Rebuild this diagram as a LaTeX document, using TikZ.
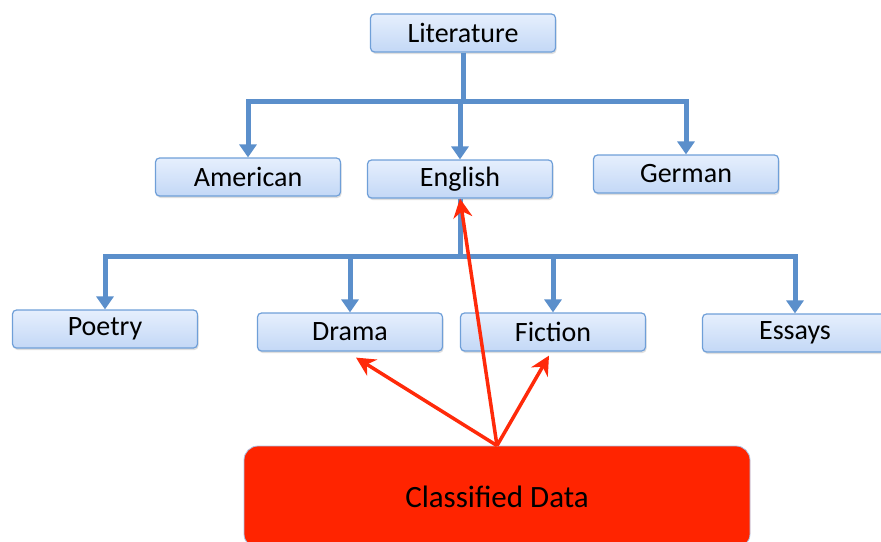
\documentclass[tikz,border=0pt]{standalone}
\usepackage{fontspec}
\setmainfont{Carlito}
\usetikzlibrary{arrows.meta,shadows}
\definecolor{boxline}{HTML}{6F9FD8}
\definecolor{boxtop}{HTML}{E6EFFD}
\definecolor{boxbot}{HTML}{C3D8F6}
\definecolor{treeblue}{HTML}{5B8FCB}
\definecolor{hitred}{HTML}{FF2A0A}
\definecolor{datared}{HTML}{FF2400}
\begin{document}
\begin{tikzpicture}[x=1pt,y=-1pt,
  box/.style={draw=boxline,line width=1.2pt,rounded corners=4pt,top color=boxtop,bottom color=boxbot,
    minimum width=185pt,minimum height=38pt,inner sep=0pt,font=\fontsize{28}{32}\selectfont,
    drop shadow={opacity=0.25,shadow xshift=1pt,shadow yshift=-2pt}},
  databox/.style={draw=boxline!60,line width=0.8pt,fill=datared,rounded corners=14pt,
    minimum width=506pt,minimum height=102pt,inner sep=0pt,font=\fontsize{31}{35}\selectfont},
  tree/.style={draw=treeblue,line width=5pt},
  treearr/.style={tree,-{Triangle[length=13pt,width=17pt]}},
  hit/.style={draw=hitred,line width=3.5pt,-{Stealth[length=19pt,width=19pt]}}]
\useasboundingbox (0,0) rectangle (881,541);
% levels of the tree
\node[box] (lit) at (463,33) {Literature};
\node[box] (am) at (248,177) {American};
\node[box] (en) at (460,179) {English};
\node[box] (ge) at (686,174) {German};
\node[box] (po) at (105,329) {Poetry};
\node[box] (dr) at (350,332) {Drama};
\node[box] (fi) at (553,332) {Fiction};
\node[box] (es) at (795,333) {Essays};
\node[databox] (cd) at (497,497) {Classified Data};
% blue branches
\coordinate (j1) at (463,101);
\coordinate (j2) at (460,256);
\draw[tree] (lit) -- (j1);
\draw[treearr] (j1) -| (am);
\draw[treearr] (j1) -| (ge);
\draw[treearr] (en|-j1) -- (en);
\draw[tree] (en) -- (j2);
\draw[treearr] (j2) -| (po);
\draw[treearr] (j2) -| (dr);
\draw[treearr] (j2) -| (fi);
\draw[treearr] (j2) -| (es);
% red links
\draw[hit] (cd.north) -- (en.south);
\draw[hit] (cd.north) -- ([xshift=6pt,yshift=-6pt]dr.south);
\draw[hit] (cd.north) -- ([xshift=-4pt,yshift=-4pt]fi.south);
\end{tikzpicture}
\end{document}
